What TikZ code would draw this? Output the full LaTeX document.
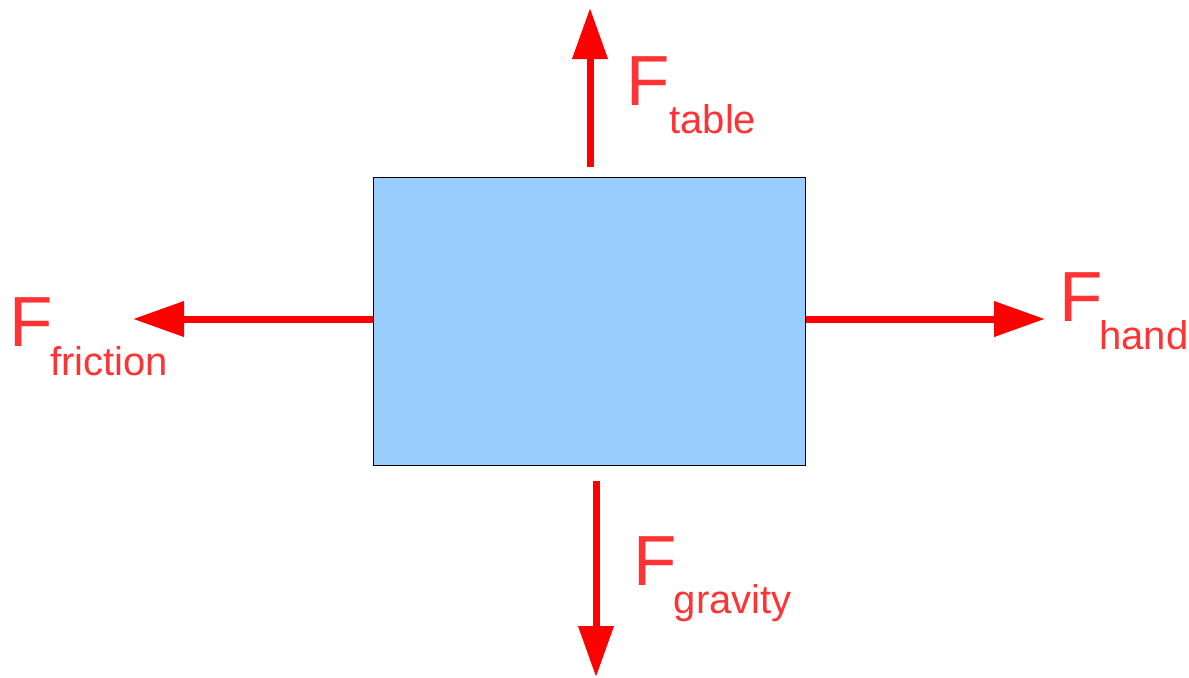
\documentclass[tikz,border=0pt]{standalone}
\usepackage{fontspec}
\setmainfont{Liberation Sans}
\usetikzlibrary{arrows.meta}
\definecolor{arrowred}{HTML}{FF0000}
\definecolor{textred}{HTML}{FF3333}
\definecolor{boxblue}{HTML}{99CCFF}
\begin{document}
\begin{tikzpicture}[x=0.5pt,y=-0.5pt,
  force/.style={draw=arrowred,line width=3.5pt,-{Triangle[length=25.5pt,width=17pt]}},
  bigF/.style={text=textred,anchor=base west,inner sep=0pt,font=\fontsize{35.5pt}{40pt}\selectfont},
  subF/.style={text=textred,anchor=base west,inner sep=0pt,font=\fontsize{20pt}{23pt}\selectfont},
  body/.style={draw=black,line width=0.5pt,fill=boxblue,minimum width=216pt,minimum height=144pt,inner sep=0pt}]
\useasboundingbox (0,0) rectangle (1189,677);
\node[body] (box) at (589,321) {};
% arrow ends
\coordinate (upS) at (590,167);
\coordinate (upE) at (590,8);
\coordinate (dnS) at (596,481);
\coordinate (dnE) at (596,677);
\coordinate (lfE) at (133,319);
\coordinate (rtE) at (1045,319);
\draw[force] (upS) -- (upE);
\draw[force] (dnS) -- (dnE);
\draw[force] (box.west |- lfE) -- (lfE);
\draw[force] (box.east |- rtE) -- (rtE);
% labels
\node[bigF] (Ft) at (626.5,105) {F};
\node[subF] (st) at (669,133) {table};
\node[bigF] (Ff) at (9.5,346) {F};
\node[subF] (sf) at (50,375) {friction};
\node[bigF] (Fh) at (1059.5,321) {F};
\node[subF] (sh) at (1099,349) {hand};
\node[bigF] (Fg) at (633.5,585) {F};
\node[subF] (sg) at (673.5,613) {gravity};
\end{tikzpicture}
\end{document}
